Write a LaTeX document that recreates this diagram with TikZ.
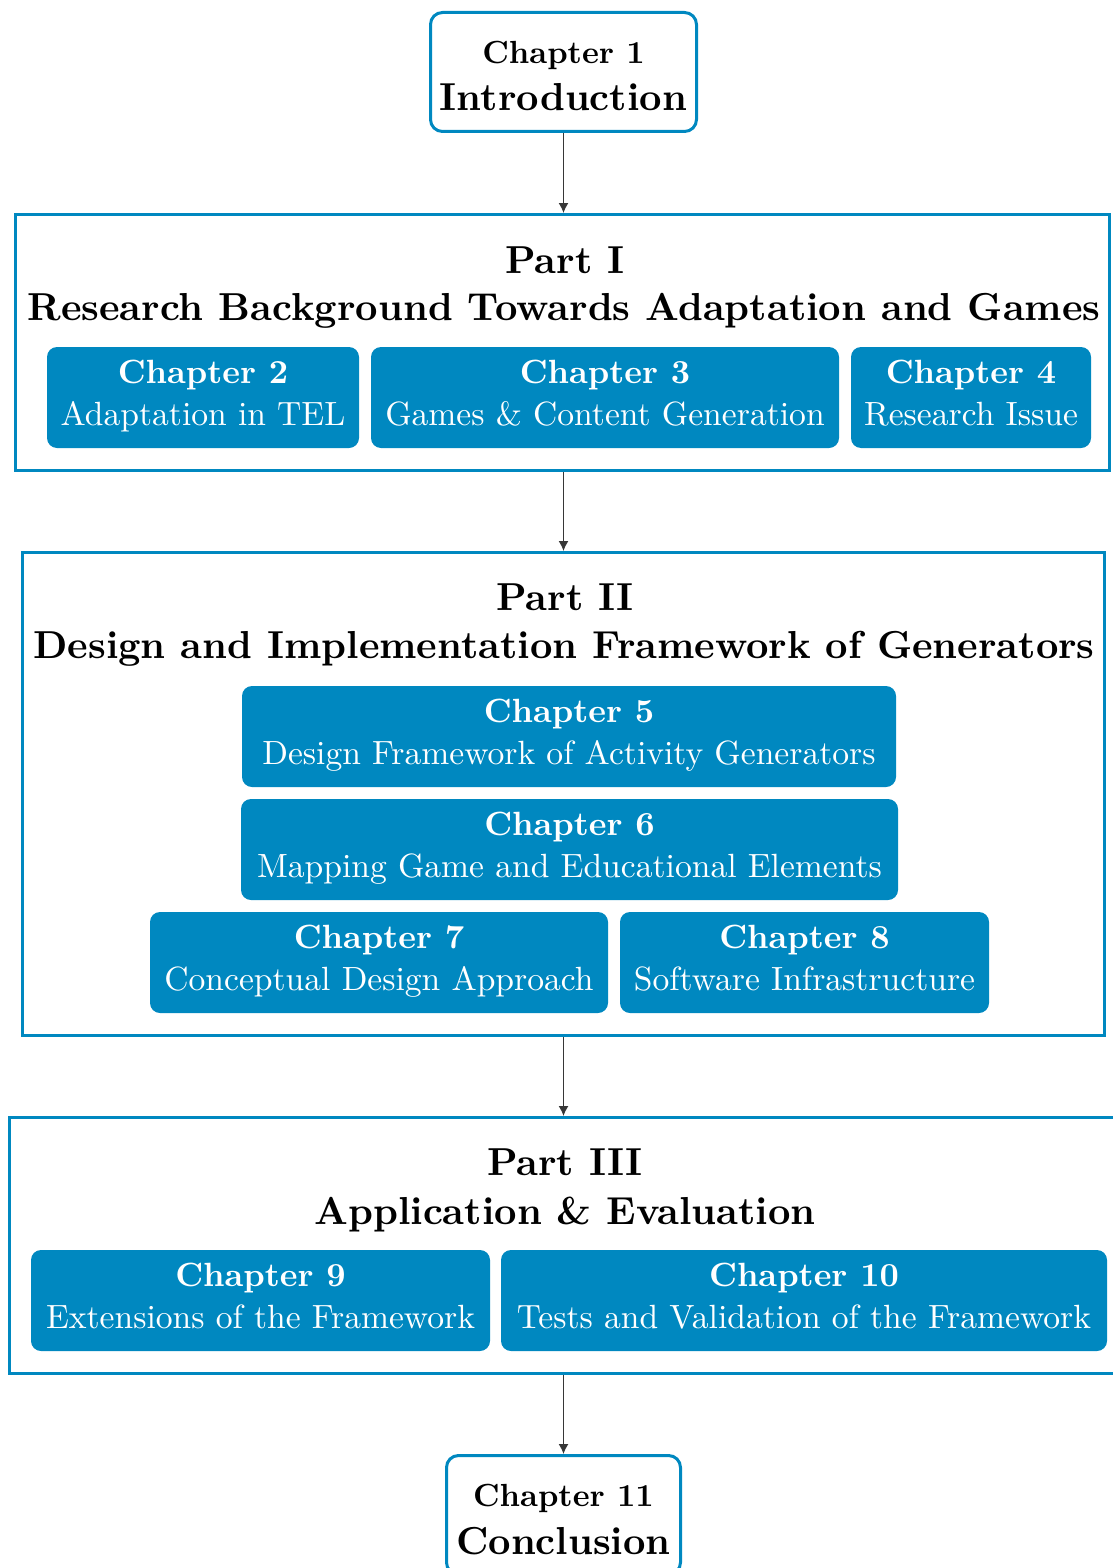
\documentclass[tikz,border=0pt]{standalone}
\usepackage{fontspec}
\setmainfont{lmroman10-regular.otf}[BoldFont=lmroman10-bold.otf, ItalicFont=lmroman10-italic.otf, BoldItalicFont=lmroman10-bolditalic.otf]
\usetikzlibrary{arrows.meta}
\definecolor{tblue}{RGB}{0,136,192}
\definecolor{arrgray}{RGB}{55,55,55}
\begin{document}
\begin{tikzpicture}[x=0.5pt,y=-0.5pt,
  chap/.style={fill=tblue, draw=none, text=white, rounded corners=5pt, align=center,
    inner sep=0pt, minimum height=50.5pt, text height=31pt, text depth=3.5pt,
    font=\fontsize{16.8}{21}\selectfont},
  endbox/.style={draw=tblue, line width=1.5pt, rounded corners=6pt, fill=white, align=center,
    inner sep=0pt, minimum height=59.5pt, text height=39pt, text depth=0pt,
    font=\fontsize{19.5}{23.75}\selectfont\bfseries},
  partbox/.style={draw=tblue, line width=1.5pt, inner sep=0pt},
  ptitle/.style={anchor=base, inner sep=0pt, font=\fontsize{19.5}{24}\selectfont\bfseries},
  arr/.style={draw=arrgray, line width=0.7pt, -{Latex[length=5pt,width=5pt]}}
]
\useasboundingbox (0,0) rectangle (1113,1568);

% Chapter 1
\node[endbox, minimum width=133pt] (ch1) at (563.5,72)
  {{\fontsize{16}{20}\selectfont Chapter 1}\\Introduction};

% Part I
\node[partbox, minimum width=547pt, minimum height=128pt] (p1) at (562.5,342.5) {};
\node[ptitle] (p1a) at (565,273) {Part I};
\node[ptitle] (p1b) at (564,320) {Research Background Towards Adaptation and Games};
\node[chap, minimum width=156pt] (ch2) at (203,397.5) {\textbf{Chapter 2}\\Adaptation in TEL};
\node[chap, minimum width=234pt] (ch3) at (605,397.5) {\textbf{Chapter 3}\\Games \& Content Generation};
\node[chap, minimum width=120pt] (ch4) at (971,397.5) {\textbf{Chapter 4}\\Research Issue};

% Part II
\node[partbox, minimum width=541pt, minimum height=241.5pt] (p2) at (563.5,794) {};
\node[ptitle] (p2a) at (565,610) {Part II};
\node[ptitle] (p2b) at (564,658) {Design and Implementation Framework of Generators};
\node[chap, minimum width=327pt] (ch5) at (569,736.5) {\textbf{Chapter 5}\\Design Framework of Activity Generators};
\node[chap, minimum width=328.5pt] (ch6) at (569.5,849.5) {\textbf{Chapter 6}\\Mapping Game and Educational Elements};
\node[chap, minimum width=229pt] (ch7) at (379,962.5) {\textbf{Chapter 7}\\Conceptual Design Approach};
\node[chap, minimum width=184.5pt] (ch8) at (804.5,962.5) {\textbf{Chapter 8}\\Software Infrastructure};

% Part III
\node[partbox, minimum width=555.5pt, minimum height=128pt] (p3) at (565,1245.5) {};
\node[ptitle] (p3a) at (565,1175) {Part III};
\node[ptitle] (p3b) at (565,1224) {Application \& Evaluation};
\node[chap, minimum width=229.5pt] (ch9) at (260.5,1300.5) {\textbf{Chapter 9}\\Extensions of the Framework};
\node[chap, minimum width=303pt] (ch10) at (804,1300.5) {\textbf{Chapter 10}\\Tests and Validation of the Framework};

% Chapter 11
\node[endbox, minimum width=117pt] (ch11) at (563.5,1515)
  {{\fontsize{16}{20}\selectfont Chapter 11}\\Conclusion};

% connectors
\draw[arr] (ch1.south) -- (ch1.south |- p1.north);
\draw[arr] (p1.south -| ch1.south) -- (ch1.south |- p2.north);
\draw[arr] (p2.south -| ch1.south) -- (ch1.south |- p3.north);
\draw[arr] (p3.south -| ch1.south) -- (ch11.north);
\end{tikzpicture}
\end{document}
